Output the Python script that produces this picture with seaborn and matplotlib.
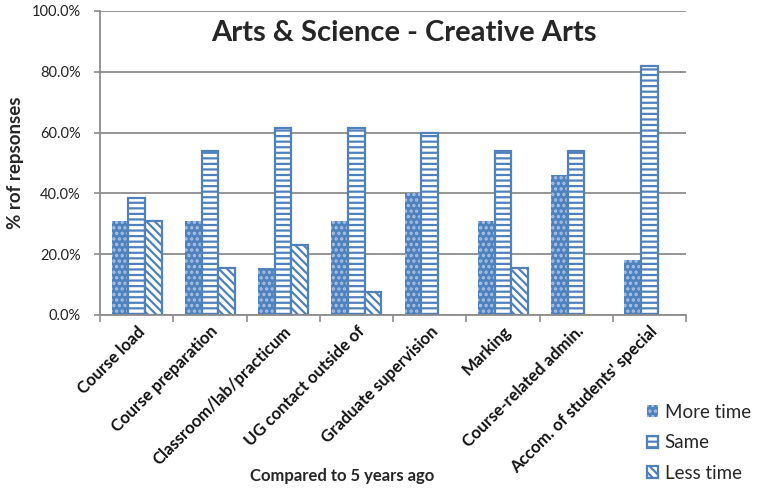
import numpy as np
import pandas as pd
import matplotlib
matplotlib.use("Agg")
import matplotlib.pyplot as plt
from matplotlib.patches import Patch
import seaborn as sns

# Survey results: share of responses per activity (%)
categories = [
    "Course load",
    "Course preparation",
    "Classroom/lab/practicum",
    "UG contact outside of",
    "Graduate supervision",
    "Marking",
    "Course-related admin.",
    "Accom. of students' special",
]
series = ["More time", "Same", "Less time"]
more_time = [30.8, 30.8, 15.4, 30.8, 40.0, 30.8, 46.2, 18.2]
same = [38.5, 53.8, 61.5, 61.5, 60.0, 53.8, 53.8, 81.8]
less_time = [30.8, 15.4, 23.1, 7.7, 0.0, 15.4, 0.0, 0.0]
y_ticks = [0, 20, 40, 60, 80, 100]

BLUE = "#4F81BD"
DOT = "#A8C3E6"
GRID = "#8C8C8C"

df = pd.DataFrame({
    "category": categories * 3,
    "series": np.repeat(series, len(categories)),
    "value": more_time + same + less_time,
})

sns.set_theme(style="white")
plt.rcParams["font.family"] = ["Lato", "DejaVu Sans"]
plt.rcParams["hatch.linewidth"] = 1.6

fig = plt.figure(figsize=(7.58, 4.92), dpi=100)
W, H = 758, 492
ax = fig.add_axes([100 / W, 1 - 315 / H, 586 / W, 304 / H])

sns.barplot(data=df, x="category", y="value", hue="series",
            order=categories, hue_order=series, width=0.68,
            errorbar=None, saturation=1, legend=False, ax=ax)

# per-series fill / hatch styling
styles = {
    "More time": dict(face=BLUE, hatch_col=DOT, hatch="...", lw=0.0),
    "Same": dict(face="white", hatch_col=BLUE, hatch="---", lw=1.6),
    "Less time": dict(face="white", hatch_col=BLUE, hatch="\\\\\\\\", lw=1.6),
}
for cont, name in zip(ax.containers, series):
    st = styles[name]
    for bar in cont:
        bar.set_facecolor(st["face"])
        bar.set_edgecolor(st["hatch_col"])
        bar.set_hatch(st["hatch"])
        bar.set_linewidth(st["lw"])
        if bar.get_height() == 0:
            bar.set_visible(False)

ax.set_ylim(0, 100)
ax.set_xlim(-0.5, len(categories) - 0.5)
ax.set_yticks(y_ticks)
ax.set_yticklabels([f"{v:.1f}%" for v in y_ticks], fontsize=10.5, color="#222222")
ax.yaxis.grid(True, color=GRID, linewidth=1.3)
ax.set_axisbelow(True)

ax.set_xticks(range(len(categories)))
ax.set_xticklabels(categories, rotation=45, ha="right", va="top",
                   rotation_mode="anchor", fontsize=12, fontweight="bold",
                   color="#111111")
ax.set_xticks(np.arange(-0.5, len(categories)), minor=True)
ax.tick_params(axis="x", which="major", length=0, pad=6)
ax.tick_params(axis="x", which="minor", length=5, width=1.2, color=GRID,
               direction="out", bottom=True)
ax.tick_params(axis="y", length=4, width=1.2, color=GRID, direction="out",
               left=True, pad=10)
ax.set_xlabel("")
ax.set_ylabel("")

for side in ("top", "right"):
    ax.spines[side].set_visible(False)
for side in ("left", "bottom"):
    ax.spines[side].set_color(GRID)
    ax.spines[side].set_linewidth(1.3)

fig.text(404 / W, 1 - 33 / H, "Arts & Science - Creative Arts",
         ha="center", va="center", fontsize=21, fontweight="bold")
fig.text(16 / W, 1 - 163 / H, "% rof repsonses", rotation=90,
         ha="center", va="center", fontsize=13.5, fontweight="bold")
fig.text(342 / W, 1 - 476 / H, "Compared to 5 years ago",
         ha="center", va="center", fontsize=12, fontweight="bold")

handles = [
    Patch(facecolor=BLUE, edgecolor=DOT, hatch="...", linewidth=0),
    Patch(facecolor="white", edgecolor=BLUE, hatch="---", linewidth=1.6),
    Patch(facecolor="white", edgecolor=BLUE, hatch="\\\\\\\\", linewidth=1.6),
]
fig.legend(handles, series, loc="upper left",
           bbox_to_anchor=(647 / W, 1 - 404 / H), frameon=False,
           fontsize=13.5, handlelength=0.6, handleheight=0.6,
           handletextpad=0.35, labelspacing=0.72, borderaxespad=0,
           borderpad=0)

fig.savefig("out.png", dpi=100, facecolor="white")
